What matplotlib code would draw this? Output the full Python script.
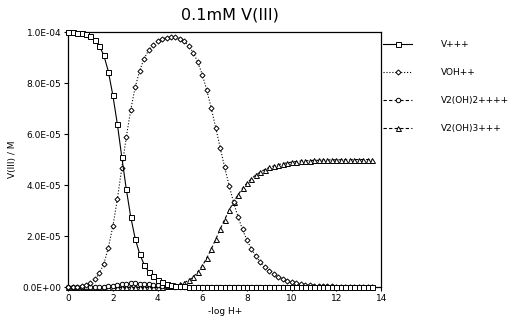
import numpy as np
import matplotlib
matplotlib.use("Agg")
from matplotlib import pyplot as plt
from matplotlib.ticker import FuncFormatter


# -log H+ values, 0 to 13.6 in 0.2 steps
ph = [0.0, 0.2, 0.4, 0.6, 0.8, 1.0, 1.2, 1.4, 1.6, 1.8,
      2.0, 2.2, 2.4, 2.6, 2.8, 3.0, 3.2, 3.4, 3.6, 3.8,
      4.0, 4.2, 4.4, 4.6, 4.8, 5.0, 5.2, 5.4, 5.6, 5.8,
      6.0, 6.2, 6.4, 6.6, 6.8, 7.0, 7.2, 7.4, 7.6, 7.8,
      8.0, 8.2, 8.4, 8.6, 8.8, 9.0, 9.2, 9.4, 9.6, 9.8,
      10.0, 10.2, 10.4, 10.6, 10.8, 11.0, 11.2, 11.4, 11.6, 11.8,
      12.0, 12.2, 12.4, 12.6, 12.8, 13.0, 13.2, 13.4, 13.6]

# concentrations in units of 1e-5 M
v3 = [10.00, 9.99, 9.98, 9.96, 9.92, 9.84, 9.70, 9.45, 9.08, 8.45,
      7.52, 6.40, 5.10, 3.85, 2.75, 1.90, 1.30, 0.88, 0.60, 0.42,
      0.29, 0.20, 0.14, 0.09, 0.06, 0.04, 0.03, 0.02, 0.01, 0.00,
      0, 0, 0, 0, 0, 0, 0, 0, 0, 0,
      0, 0, 0, 0, 0, 0, 0, 0, 0, 0,
      0, 0, 0, 0, 0, 0, 0, 0, 0, 0,
      0, 0, 0, 0, 0, 0, 0, 0, 0]

voh = [0.01, 0.01, 0.02, 0.04, 0.08, 0.16, 0.30, 0.55, 0.92, 1.55,
       2.38, 3.44, 4.66, 5.87, 6.95, 7.84, 8.48, 8.96, 9.28, 9.48,
       9.63, 9.72, 9.78, 9.79, 9.80, 9.74, 9.63, 9.45, 9.19, 8.82,
       8.33, 7.72, 7.02, 6.25, 5.47, 4.70, 3.98, 3.32, 2.75, 2.26,
       1.84, 1.49, 1.21, 0.97, 0.78, 0.62, 0.50, 0.40, 0.32, 0.25,
       0.20, 0.16, 0.13, 0.10, 0.08, 0.06, 0.05, 0.04, 0.03, 0.03,
       0.02, 0.02, 0.01, 0.01, 0.01, 0.01, 0.01, 0.00, 0.00]

v2oh2 = [0, 0, 0, 0, 0, 0, 0, 0, 0.01, 0.03,
         0.05, 0.08, 0.12, 0.14, 0.15, 0.15, 0.14, 0.13, 0.12, 0.10,
         0.08, 0.06, 0.04, 0.03, 0.02, 0.01, 0, 0, 0, 0,
         0, 0, 0, 0, 0, 0, 0, 0, 0, 0,
         0, 0, 0, 0, 0, 0, 0, 0, 0, 0,
         0, 0, 0, 0, 0, 0, 0, 0, 0, 0,
         0, 0, 0, 0, 0, 0, 0, 0, 0]

v2oh3 = [0, 0, 0, 0, 0, 0, 0, 0, 0, 0,
         0, 0, 0, 0, 0, 0, 0, 0, 0, 0.01,
         0.01, 0.02, 0.03, 0.05, 0.07, 0.11, 0.18, 0.27, 0.40, 0.59,
         0.83, 1.14, 1.49, 1.87, 2.27, 2.65, 3.01, 3.34, 3.62, 3.87,
         4.08, 4.25, 4.40, 4.51, 4.61, 4.69, 4.75, 4.80, 4.84, 4.87,
         4.90, 4.92, 4.94, 4.95, 4.96, 4.97, 4.97, 4.98, 4.98, 4.99,
         4.99, 4.99, 4.99, 4.99, 5.00, 5.00, 5.00, 5.00, 5.00]

labels = ['V+++', 'VOH++', 'V2(OH)2++++', 'V2(OH)3+++']
yticks = [0, 2e-5, 4e-5, 6e-5, 8e-5, 1e-4]
xticks = [0, 2, 4, 6, 8, 10, 12, 14]

x = np.array(ph)
scale = 1e-5

fig = plt.figure(figsize=(5.2, 3.3), dpi=100)
ax = fig.add_axes([0.131, 0.130, 0.602, 0.773])

lw = 0.8
common = dict(color='black', markerfacecolor='white', markeredgecolor='black',
              markeredgewidth=0.7, linewidth=lw, clip_on=False)
ax.plot(x, np.array(v3) * scale, '-', marker='s', markersize=3.6,
        label=labels[0], zorder=6, **common)
ax.plot(x, np.array(voh) * scale, ':', marker='D', markersize=2.6,
        label=labels[1], zorder=5, **common)
ax.plot(x, np.array(v2oh2) * scale, '--', marker='o', markersize=3.2,
        dashes=(3, 2), label=labels[2], zorder=4, **common)
ax.plot(x, np.array(v2oh3) * scale, '--', marker='^', markersize=3.6,
        dashes=(3, 2), label=labels[3], zorder=3, **common)

ax.set_xlim(0, 14)
ax.set_ylim(0, 1e-4)
ax.set_xticks(xticks)
ax.set_yticks(yticks)
ax.yaxis.set_major_formatter(FuncFormatter(lambda v, p: '%.1E' % v))
ax.tick_params(direction='out', length=3, width=0.8, labelsize=6.5, pad=2)
for s in ax.spines.values():
    s.set_linewidth(0.9)

ax.set_xlabel('-log H+', fontsize=6.5, labelpad=3)
ax.set_ylabel('V(III) / M', fontsize=6.5, labelpad=4)
fig.text(0.443, 0.955, '0.1mM V(III)', fontsize=11.5, ha='center', va='center')

leg = fig.legend(loc='upper left', bbox_to_anchor=(0.737, 0.878), frameon=False,
                 fontsize=6.5, handlelength=3.2, handletextpad=3.2, numpoints=1,
                 labelspacing=2.1, borderaxespad=0, borderpad=0)

fig.savefig('out.png', dpi=100)
